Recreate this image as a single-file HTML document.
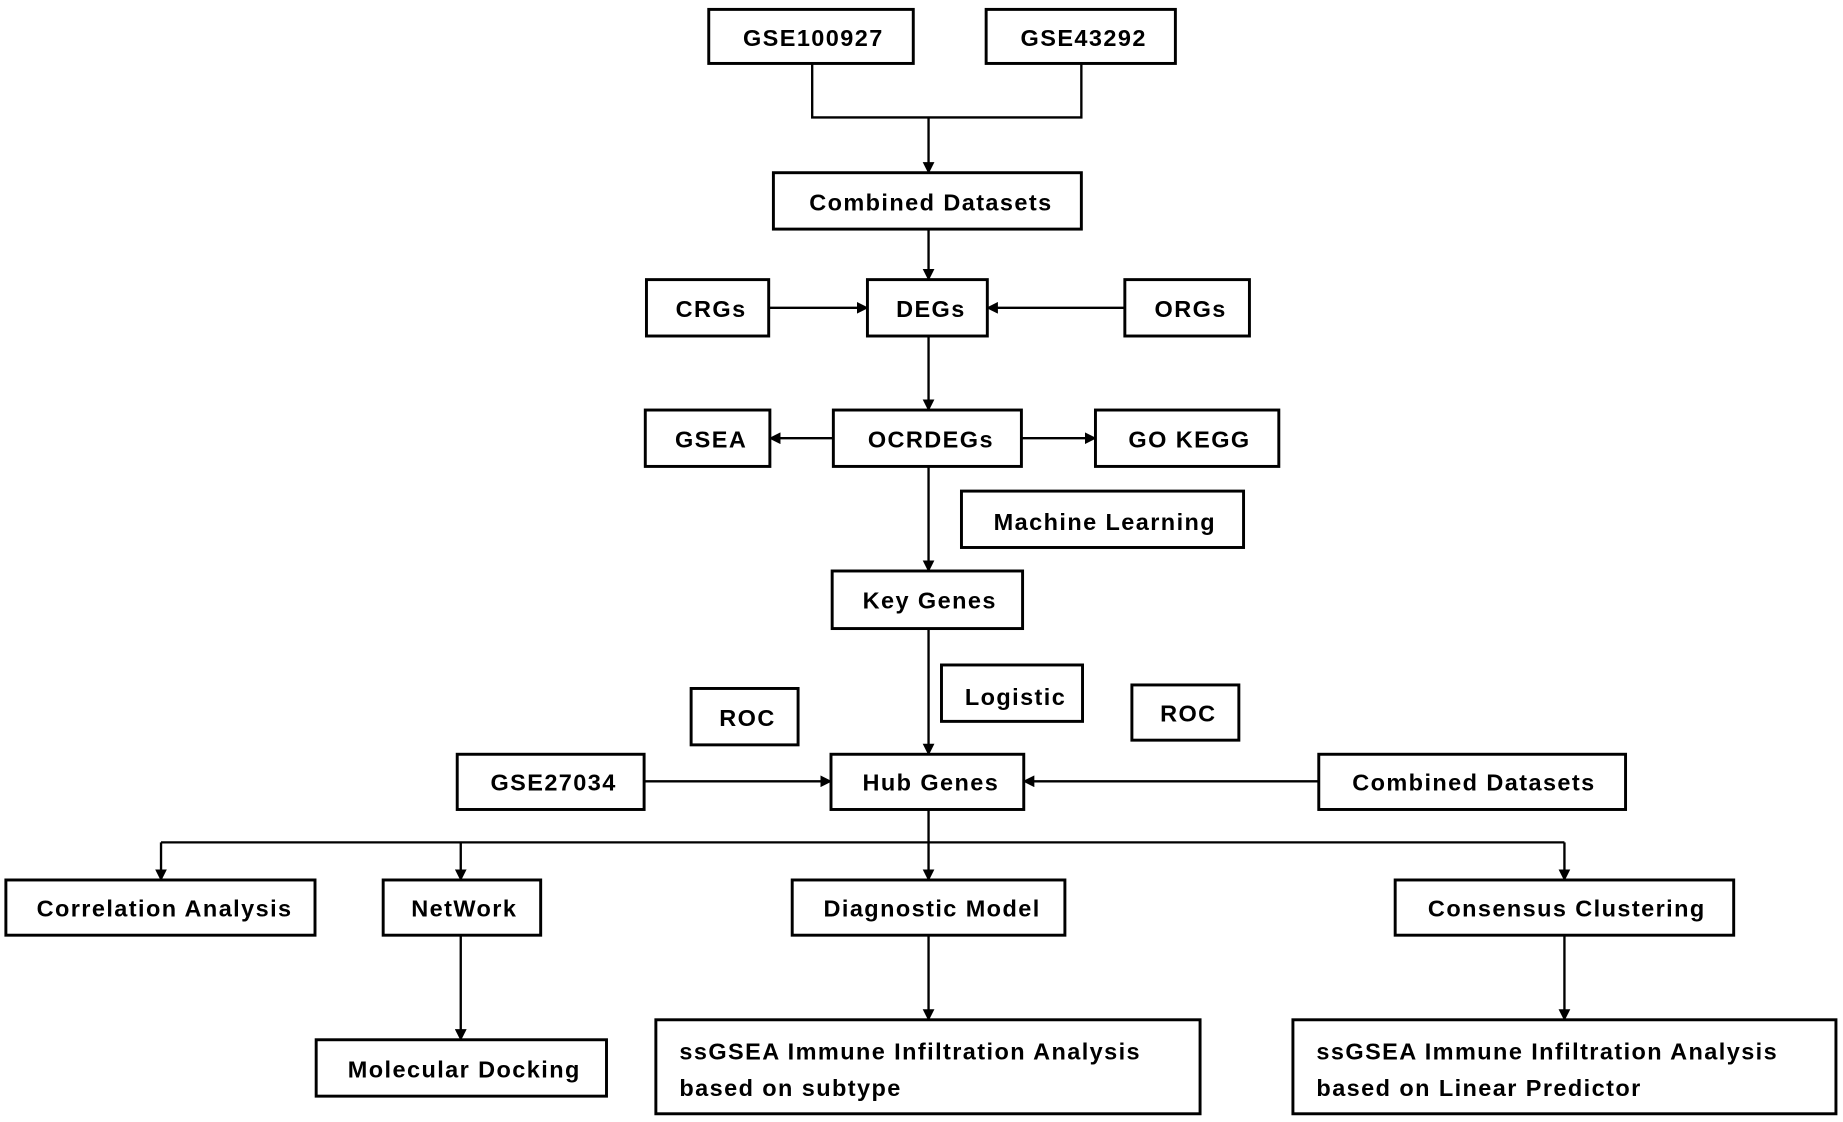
<!DOCTYPE html>
<html><head><meta charset="utf-8"><style>
html,body{margin:0;padding:0;background:#fff;}
svg{display:block;}
text{font-family:"Liberation Sans",Arial,sans-serif;font-weight:bold;font-size:20px;letter-spacing:1.2px;fill:#000;}
</style></head><body>
<svg width="1843" height="1122" viewBox="0 0 1568 955" preserveAspectRatio="none" xmlns="http://www.w3.org/2000/svg">
<defs>
<marker id="a" markerWidth="10" markerHeight="10" refX="9" refY="5" orient="auto" markerUnits="userSpaceOnUse">
<path d="M0,0 L10,5 L0,10 z" fill="#000"/></marker>
</defs>
<g fill="#fff" stroke="#000" stroke-width="2.5">
<rect x="603" y="8" width="174" height="46"/>
<rect x="839" y="8" width="161" height="46"/>
<rect x="658" y="147" width="262" height="48"/>
<rect x="550" y="238" width="104" height="48"/>
<rect x="738" y="238" width="102" height="48"/>
<rect x="957" y="238" width="106" height="48"/>
<rect x="549" y="349" width="106" height="48"/>
<rect x="709" y="349" width="160" height="48"/>
<rect x="932" y="349" width="156" height="48"/>
<rect x="818" y="418" width="240" height="48"/>
<rect x="708" y="486" width="162" height="49"/>
<rect x="801" y="566" width="120" height="48"/>
<rect x="588" y="586" width="91" height="48"/>
<rect x="963" y="583" width="91" height="47"/>
<rect x="389" y="642" width="159" height="47"/>
<rect x="707" y="642" width="164" height="47"/>
<rect x="1122" y="642" width="261" height="47"/>
<rect x="5" y="749" width="263" height="47"/>
<rect x="326" y="749" width="134" height="47"/>
<rect x="674" y="749" width="232" height="47"/>
<rect x="1187" y="749" width="288" height="47"/>
<rect x="269" y="885" width="247" height="48"/>
<rect x="558" y="868" width="463" height="80"/>
<rect x="1100" y="868" width="462" height="80"/>
</g>
<g stroke="#000" stroke-width="2" fill="none">
<polyline points="691,54 691,100 920,100 920,54"/>
<line x1="790" y1="100" x2="790" y2="147" marker-end="url(#a)"/>
<line x1="790" y1="195" x2="790" y2="238" marker-end="url(#a)"/>
<line x1="654" y1="262" x2="738" y2="262" marker-end="url(#a)"/>
<line x1="957" y1="262" x2="840" y2="262" marker-end="url(#a)"/>
<line x1="790" y1="286" x2="790" y2="349" marker-end="url(#a)"/>
<line x1="709" y1="373" x2="655" y2="373" marker-end="url(#a)"/>
<line x1="869" y1="373" x2="932" y2="373" marker-end="url(#a)"/>
<line x1="790" y1="397" x2="790" y2="486" marker-end="url(#a)"/>
<line x1="790" y1="535" x2="790" y2="642" marker-end="url(#a)"/>
<line x1="548" y1="665" x2="707" y2="665" marker-end="url(#a)"/>
<line x1="1122" y1="665" x2="871" y2="665" marker-end="url(#a)"/>
<line x1="790" y1="689" x2="790" y2="717"/>
<line x1="137" y1="717" x2="1331" y2="717"/>
<line x1="137" y1="717" x2="137" y2="749" marker-end="url(#a)"/>
<line x1="392" y1="717" x2="392" y2="749" marker-end="url(#a)"/>
<line x1="790" y1="717" x2="790" y2="749" marker-end="url(#a)"/>
<line x1="1331" y1="717" x2="1331" y2="749" marker-end="url(#a)"/>
<line x1="392" y1="796" x2="392" y2="885" marker-end="url(#a)"/>
<line x1="790" y1="796" x2="790" y2="868" marker-end="url(#a)"/>
<line x1="1331" y1="796" x2="1331" y2="868" marker-end="url(#a)"/>
</g>
<g text-anchor="middle">
<text x="692" y="39">GSE100927</text>
<text x="922" y="39">GSE43292</text>
<text x="792" y="179">Combined Datasets</text>
<text x="605" y="270">CRGs</text>
<text x="792" y="270">DEGs</text>
<text x="1013" y="270">ORGs</text>
<text x="605" y="381">GSEA</text>
<text x="792" y="381">OCRDEGs</text>
<text x="1012" y="381">GO KEGG</text>
<text x="940" y="451">Machine Learning</text>
<text x="791" y="518">Key Genes</text>
<text x="864" y="600">Logistic</text>
<text x="636" y="618">ROC</text>
<text x="1011" y="614">ROC</text>
<text x="471" y="673">GSE27034</text>
<text x="792" y="673">Hub Genes</text>
<text x="1254" y="673">Combined Datasets</text>
<text x="140" y="780">Correlation Analysis</text>
<text x="395" y="780">NetWork</text>
<text x="793" y="780">Diagnostic Model</text>
<text x="1333" y="780">Consensus Clustering</text>
<text x="395" y="917">Molecular Docking</text>
</g>
<text x="578" y="902">ssGSEA Immune Infiltration Analysis</text>
<text x="578" y="933">based on subtype</text>
<text x="1120" y="902">ssGSEA Immune Infiltration Analysis</text>
<text x="1120" y="933">based on Linear Predictor</text>
</svg>
</body></html>
